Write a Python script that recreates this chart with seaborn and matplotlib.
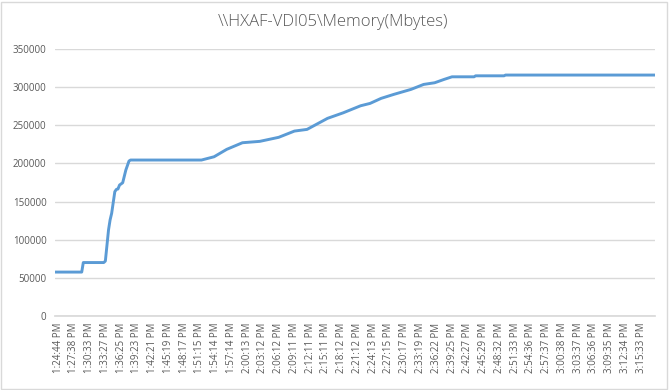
import matplotlib
matplotlib.use("Agg")
import matplotlib.pyplot as plt
import pandas as pd
import seaborn as sns
from matplotlib.patches import Rectangle

# tick labels shown under the axis (one every 10 samples)
time_labels = [
    "1:24:44 PM", "1:27:38 PM", "1:30:33 PM", "1:33:27 PM", "1:36:25 PM",
    "1:39:23 PM", "1:42:21 PM", "1:45:19 PM", "1:48:17 PM", "1:51:15 PM",
    "1:54:14 PM", "1:57:14 PM", "2:00:13 PM", "2:03:12 PM", "2:06:12 PM",
    "2:09:11 PM", "2:12:11 PM", "2:15:11 PM", "2:18:12 PM", "2:21:12 PM",
    "2:24:13 PM", "2:27:15 PM", "2:30:17 PM", "2:33:19 PM", "2:36:22 PM",
    "2:39:25 PM", "2:42:27 PM", "2:45:29 PM", "2:48:32 PM", "2:51:33 PM",
    "2:54:36 PM", "2:57:37 PM", "3:00:38 PM", "3:03:37 PM", "3:06:36 PM",
    "3:09:35 PM", "3:12:34 PM", "3:15:33 PM",
]

# sample index and memory value
sample = [0, 17, 18, 31, 32, 34, 35, 36, 38, 39, 40, 41, 43, 45, 47, 48,
          93, 101, 109, 119, 130, 142, 152, 160, 173, 183, 194, 200, 207,
          215, 226, 234, 241, 247, 252, 266, 267, 285, 286, 381]
memory = [57500, 57500, 70000, 70000, 72000, 112700, 125900, 134600,
          163000, 166000, 166500, 171700, 174700, 191400, 203200, 204500,
          204500, 208800, 218500, 227200, 229000, 234300, 242500, 244700,
          259200, 266500, 275700, 278800, 285400, 290600, 297200, 303700,
          305900, 310300, 313700, 313700, 315000, 315000, 316000, 316000]

df = pd.DataFrame({"sample": sample, "memory": memory})

sns.set_theme(style="white")
plt.rcParams["font.family"] = ["Open Sans", "DejaVu Sans"]

fig = plt.figure(figsize=(6.7, 3.9), dpi=100)
ax = fig.add_axes([0.082, 0.19, 0.896, 0.684])

sns.lineplot(data=df, x="sample", y="memory", ax=ax, color="#5b9bd5", linewidth=2.1)

ax.set_xlim(0, 381)
ax.set_ylim(0, 350000)
ax.set_yticks(range(0, 350001, 50000))
ax.set_yticklabels([str(v) for v in range(0, 350001, 50000)])
ax.set_xticks([2 + 10 * k for k in range(len(time_labels))])
ax.set_xticklabels(time_labels, rotation=90)
ax.tick_params(axis="both", length=0, labelsize=7, labelcolor="#595959")
ax.tick_params(axis="x", pad=5)
ax.tick_params(axis="y", pad=6)
ax.yaxis.grid(True, color="#d9d9d9", linewidth=1)
ax.set_axisbelow(True)
for side in ["top", "left", "right"]:
    ax.spines[side].set_visible(False)
ax.spines["bottom"].set_color("#d9d9d9")
ax.set_xlabel("")
ax.set_ylabel("")

fig.suptitle("\\\\HXAF-VDI05\\Memory(Mbytes)", x=0.497, y=0.965,
             fontsize=12, color="#595959", fontweight="light")

fig.patches.append(Rectangle((0.002, 0.003), 0.994, 0.992, transform=fig.transFigure,
                             fill=False, edgecolor="#d9d9d9", linewidth=1))

fig.savefig("out.png", dpi=100, facecolor="white")
